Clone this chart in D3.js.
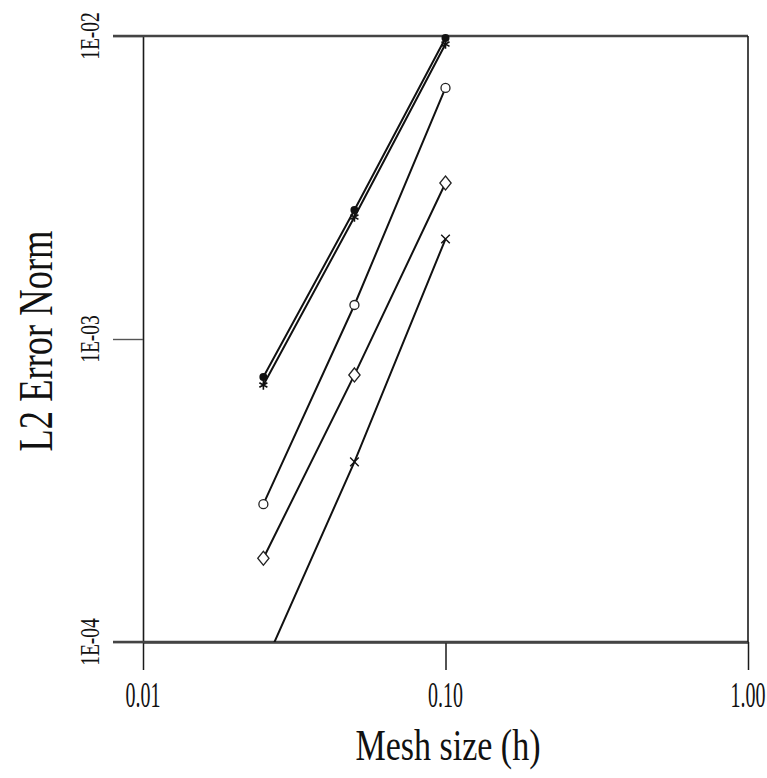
<!DOCTYPE html>
<html>
<head>
<meta charset="utf-8">
<script src="https://cdn.jsdelivr.net/npm/d3@7"></script>
<style>
  html, body { margin: 0; padding: 0; background: #fff; }
  svg { display: block; }
  text { font-family: "Liberation Serif", "DejaVu Serif", serif; fill: #111; }
</style>
</head>
<body>
<svg id="chart" width="767" height="778"></svg>
<script>
// ---- data ----
const meshSizes = [0.1, 0.05, 0.025];
const seriesFilledCircle = [0.00985, 0.002665, 0.000749];
const seriesStar        = [0.00941, 0.002527, 0.000705];
const seriesOpenCircle  = [0.00674, 0.001295, 0.000285];
const seriesDiamond     = [0.003272, 0.000761, 0.000189];
const seriesCross       = [0.002138, 0.000393, 0.0000827];
const xTickValues = [0.01, 0.1, 1];
const xTickLabels = ["0.01", "0.10", "1.00"];
const yTickValues = [1e-4, 1e-3, 1e-2];
const yTickLabels = ["1E-04", "1E-03", "1E-02"];
const xTitle = "Mesh size (h)";
const yTitle = "L2 Error Norm";

const series = [
  { name: "filled", values: seriesFilledCircle, marker: "filledCircle" },
  { name: "star", values: seriesStar, marker: "star" },
  { name: "circle", values: seriesOpenCircle, marker: "openCircle" },
  { name: "diamond", values: seriesDiamond, marker: "diamond" },
  { name: "cross", values: seriesCross, marker: "cross" }
];

(function () {
// ---- layout ----
const pLeft = 143, pRight = 748, pTop = 36, pBottom = 642;
const svg = d3.select("#chart");

const x = d3.scaleLog().domain([0.01, 1]).range([pLeft, pRight]);
const y = d3.scaleLog().domain([1e-4, 1e-2]).range([pBottom, pTop]);

// clip
svg.append("defs").append("clipPath").attr("id", "plotClip")
  .append("rect").attr("x", pLeft).attr("y", pTop)
  .attr("width", pRight - pLeft).attr("height", pBottom - pTop);

// ---- axes ----
const yAxis = d3.axisLeft(y).tickValues(yTickValues)
  .tickSizeInner(30).tickSizeOuter(0).tickFormat("");
const gy = svg.append("g").attr("transform", `translate(${pLeft},0)`).call(yAxis);
gy.select(".domain").attr("stroke", "#1a1a1a").attr("stroke-width", 1.6);
gy.selectAll(".tick line").attr("stroke", "#555").attr("stroke-width", 1.4);

const xAxis = d3.axisBottom(x).tickValues(xTickValues)
  .tickSizeInner(28).tickSizeOuter(0).tickFormat("");
const gx = svg.append("g").attr("transform", `translate(0,${pBottom})`).call(xAxis);
gx.select(".domain").attr("stroke", "#444").attr("stroke-width", 2.4);
gx.selectAll(".tick line").attr("stroke", "#1a1a1a").attr("stroke-width", 1.5);

// top line
svg.append("line").attr("x1", pLeft - 30).attr("x2", pRight)
  .attr("y1", y(1e-2)).attr("y2", y(1e-2))
  .attr("stroke", "#444").attr("stroke-width", 2.4);
// bottom extension left
svg.append("line").attr("x1", pLeft - 30).attr("x2", pRight)
  .attr("y1", y(1e-4)).attr("y2", y(1e-4))
  .attr("stroke", "#444").attr("stroke-width", 2.4);
// right border
svg.append("line").attr("x1", x(1)).attr("x2", x(1))
  .attr("y1", y(1e-2)).attr("y2", y(1e-4))
  .attr("stroke", "#1a1a1a").attr("stroke-width", 1.6);

// tick labels
svg.selectAll(".ylab").data(yTickValues).enter().append("text")
  .attr("class", "ylab")
  .attr("text-anchor", "middle")
  .attr("font-size", 19.5)
  .attr("transform", d => `translate(99,${y(d)}) rotate(-90) scale(1,1.45)`)
  .text((d, i) => yTickLabels[i]);

svg.selectAll(".xlab").data(xTickValues).enter().append("text")
  .attr("class", "xlab")
  .attr("text-anchor", "middle")
  .attr("font-size", 20)
  .attr("transform", d => `translate(${x(d)},707) scale(1,1.75)`)
  .text((d, i) => xTickLabels[i]);

// titles
svg.append("text").attr("text-anchor", "middle").attr("font-size", 34)
  .attr("transform", "translate(448,760) scale(1,1.3)")
  .text(xTitle);
svg.append("text").attr("text-anchor", "middle").attr("font-size", 36.5)
  .attr("transform", "translate(52,341) rotate(-90) scale(1,1.35)")
  .text(yTitle);

// ---- series ----
const line = d3.line().x(d => x(d[0])).y(d => y(d[1]));
const plot = svg.append("g").attr("clip-path", "url(#plotClip)");
const outer = svg.append("g");

series.forEach(s => {
  const pts = meshSizes.map((h, i) => [h, s.values[i]]);
  plot.append("path").datum(pts).attr("d", line)
    .attr("fill", "none").attr("stroke", "#111").attr("stroke-width", 2);
  const visible = pts.filter(p => p[1] >= 1e-4);
  const g = outer.append("g");
  visible.forEach(p => {
    const cx = x(p[0]), cy = y(p[1]);
    if (s.marker === "filledCircle") {
      g.append("circle").attr("cx", cx).attr("cy", cy).attr("r", 4)
        .attr("fill", "#111");
    } else if (s.marker === "openCircle") {
      g.append("circle").attr("cx", cx).attr("cy", cy).attr("r", 4.5)
        .attr("fill", "#fff").attr("stroke", "#222").attr("stroke-width", 1.3);
    } else if (s.marker === "diamond") {
      g.append("path").attr("transform", `translate(${cx},${cy}) scale(1.25,0.9)`)
        .attr("d", d3.symbol().type(d3.symbolDiamond).size(70)())
        .attr("fill", "#fff").attr("stroke", "#222").attr("stroke-width", 1.2);
    } else if (s.marker === "star") {
      g.append("path").attr("transform", `translate(${cx},${cy})`)
        .attr("d", d3.symbol().type(d3.symbolAsterisk || d3.symbolCross).size(60)())
        .attr("fill", "none").attr("stroke", "#111").attr("stroke-width", 1.6);
    } else if (s.marker === "cross") {
      g.append("path").attr("transform", `translate(${cx},${cy})`)
        .attr("d", d3.symbol().type(d3.symbolX || d3.symbolTimes || d3.symbolCross).size(50)())
        .attr("fill", "none").attr("stroke", "#111").attr("stroke-width", 1.4);
    }
  });
});
})();
</script>
</body>
</html>
